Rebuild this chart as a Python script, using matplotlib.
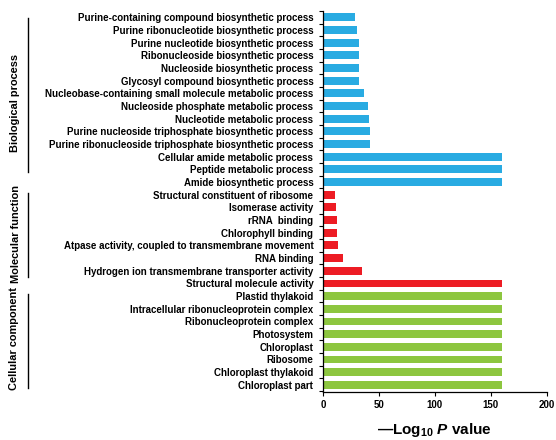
import matplotlib.pyplot as plt
import numpy as np

plt.rcParams['font.family'] = ['Liberation Sans', 'DejaVu Sans']
plt.rcParams['mathtext.fontset'] = 'custom'
plt.rcParams['mathtext.rm'] = 'Liberation Sans:bold'
plt.rcParams['mathtext.bf'] = 'Liberation Sans:bold'
plt.rcParams['mathtext.bfit'] = 'Liberation Sans:bold:italic'

# GO terms, top to bottom
bp_terms = ['Purine-containing compound biosynthetic process',
            'Purine ribonucleotide biosynthetic process',
            'Purine nucleotide biosynthetic process',
            'Ribonucleoside biosynthetic process',
            'Nucleoside biosynthetic process',
            'Glycosyl compound biosynthetic process',
            'Nucleobase-containing small molecule metabolic process',
            'Nucleoside phosphate metabolic process',
            'Nucleotide metabolic process',
            'Purine nucleoside triphosphate biosynthetic process',
            'Purine ribonucleoside triphosphate biosynthetic process',
            'Cellular amide metabolic process',
            'Peptide metabolic process',
            'Amide biosynthetic process']
bp_values = [29, 30, 32, 32, 32, 32, 37, 40, 41, 42, 42, 160, 160, 160]

mf_terms = ['Structural constituent of ribosome',
            'Isomerase activity',
            'rRNA  binding',
            'Chlorophyll binding',
            'Atpase activity, coupled to transmembrane movement',
            'RNA binding',
            'Hydrogen ion transmembrane transporter activity',
            'Structural molecule activity']
mf_values = [11, 11.5, 12.3, 12.7, 13.3, 18, 35, 160]

cc_terms = ['Plastid thylakoid',
            'Intracellular ribonucleoprotein complex',
            'Ribonucleoprotein complex',
            'Photosystem',
            'Chloroplast',
            'Ribosome',
            'Chloroplast thylakoid',
            'Chloroplast part']
cc_values = [160, 160, 160, 160, 160, 160, 160, 160]

blue = '#29ABE2'
red = '#ED1C24'
green = '#8DC63F'

terms = bp_terms + mf_terms + cc_terms
values = bp_values + mf_values + cc_values
colors = [blue] * len(bp_terms) + [red] * len(mf_terms) + [green] * len(cc_terms)
y = np.arange(len(terms))

fig = plt.figure(figsize=(5.56, 4.4), dpi=100)
ax = fig.add_axes([0.581, 0.109, 0.402, 0.866])

ax.barh(y, values, height=0.62, color=colors, edgecolor='none')
ax.set_ylim(len(terms) - 0.43, -0.5)
ax.set_xlim(0, 200)
ax.set_xticks([0, 50, 100, 150, 200])
ax.set_yticks(y)
ax.set_yticklabels(terms, fontsize=7.0, fontweight='bold')
ax.set_yticks(np.arange(len(terms) + 1) - 0.5, minor=True)
ax.tick_params(axis='y', which='major', length=0, pad=7)
ax.tick_params(axis='y', which='minor', length=3, width=0.8, direction='out')
ax.tick_params(axis='x', length=3, width=0.8, labelsize=7.0, pad=3)
for lab in ax.get_xticklabels():
    lab.set_fontweight('bold')

for s in ['top', 'right']:
    ax.spines[s].set_visible(False)
for s in ['left', 'bottom']:
    ax.spines[s].set_linewidth(0.9)

ax.set_xlabel('\u2014Log$_{10}$ $\\mathbfit{P}$ value', fontsize=11, fontweight='bold', labelpad=8)

# group brackets and labels (figure pixel coords -> fractions)
W, H = 556, 440
groups = [('Biological process', 18, 172, 15, 103),
          ('Molecular function', 193, 277, 16, 234),
          ('Cellular component', 294, 388, 14, 338)]
for name, y0, y1, tx, ty in groups:
    fig.add_artist(plt.Line2D([28 / W, 28 / W], [1 - y0 / H, 1 - y1 / H],
                              color='black', linewidth=1.0))
    fig.text(tx / W, 1 - ty / H, name, rotation=90, ha='center', va='center',
             fontsize=7.9, fontweight='bold')

fig.savefig('out.png', dpi=100)
